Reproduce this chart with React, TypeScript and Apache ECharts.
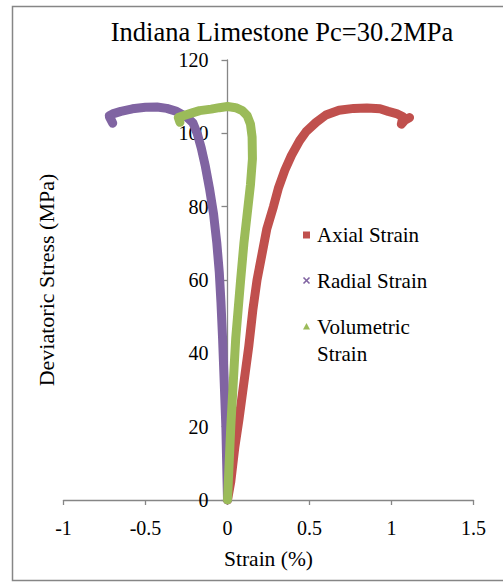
import React, { useEffect, useRef } from "react";
import * as echarts from "echarts";

const FONT = "Liberation Serif";

const titleText = "Indiana Limestone Pc=30.2MPa";
const xTicks = { min: -1, max: 1.5, interval: 0.5 };
const yTicks = { min: 0, max: 120, interval: 20 };

const axialStrain = [0, 0.02, 0.045, 0.07, 0.1, 0.13, 0.155, 0.18, 0.21, 0.24, 0.28, 0.31, 0.35, 0.39, 0.44, 0.48, 0.54, 0.6, 0.68, 0.77, 0.85, 0.93, 0.98, 1.03, 1.07, 1.06, 1.08, 1.11];
const axialStress = [0, 5, 14.5, 22, 32, 42, 52, 60, 67, 74, 80, 85, 90, 94, 98, 100.5, 103, 105, 106.3, 106.8, 106.9, 106.7, 106, 105.4, 104.5, 102.5, 103.5, 104.3];

const radialStrain = [0, -0.005, -0.01, -0.02, -0.03, -0.04, -0.05, -0.065, -0.085, -0.11, -0.135, -0.16, -0.185, -0.21, -0.25, -0.31, -0.37, -0.43, -0.5, -0.58, -0.65, -0.7, -0.72, -0.7, -0.72];
const radialStress = [0, 10, 20, 32, 44, 54, 62, 70, 78, 85, 91, 96, 100, 102.8, 104.5, 106, 106.8, 107.2, 107.1, 106.7, 106, 105.3, 104.8, 102.8, 104.5];

const volStrain = [0, 0.01, 0.02, 0.035, 0.05, 0.065, 0.08, 0.1, 0.12, 0.14, 0.152, 0.15, 0.14, 0.12, 0.09, 0.05, 0, -0.05, -0.1, -0.17, -0.22, -0.27, -0.3, -0.29];
const volStress = [0, 10, 20, 32, 44, 52, 60, 70, 78, 86, 93, 99, 102.5, 104.8, 106.2, 107, 107.3, 107, 106.6, 106.2, 105.5, 104.8, 104.3, 103];

const seriesNames = ["Axial Strain", "Radial Strain", "Volumetric Strain"];
const legendLines = [["Axial Strain"], ["Radial Strain"], ["Volumetric", "Strain"]];
const seriesColors = ["#C0504D", "#8064A2", "#9BBB59"];

const zip = (xs: number[], ys: number[]) => xs.map((x, i) => [x, ys[i]]);

export default function App() {
  const ref = useRef<HTMLDivElement>(null);
  useEffect(() => {
    if (!ref.current) return;
    const chart = echarts.init(ref.current, null, { renderer: "svg" });
    const axisColor = "#868686";
    const lineSeries = (name: string, color: string, data: number[][]) => ({
      name,
      type: "line",
      data,
      showSymbol: false,
      symbol: "none",
      smooth: false,
      color,
      lineStyle: { width: 9, color, cap: "round", join: "round" },
      itemStyle: { color },
    });

    // legend drawn as graphic (icon aligned with first text line)
    const legX = 306.5;
    const legTextX = 317;
    const legY = [235, 280.5, 326.5];
    const lineH = 27;
    const legendGraphics: any[] = [];
    legendGraphics.push({
      type: "rect",
      shape: { x: legX - 3.5, y: legY[0] - 3.5, width: 7, height: 7 },
      style: { fill: seriesColors[0] },
    });
    legendGraphics.push({
      type: "line",
      shape: { x1: legX - 3, y1: legY[1] - 3, x2: legX + 3, y2: legY[1] + 3 },
      style: { stroke: seriesColors[1], lineWidth: 1.6 },
    });
    legendGraphics.push({
      type: "line",
      shape: { x1: legX - 3, y1: legY[1] + 3, x2: legX + 3, y2: legY[1] - 3 },
      style: { stroke: seriesColors[1], lineWidth: 1.6 },
    });
    legendGraphics.push({
      type: "polygon",
      shape: { points: [[legX - 3.5, legY[2] + 3], [legX + 3.5, legY[2] + 3], [legX, legY[2] - 3.5]] },
      style: { fill: seriesColors[2] },
    });
    legendLines.forEach((lines, i) => {
      lines.forEach((t, j) => {
        legendGraphics.push({
          type: "text",
          x: legTextX,
          y: legY[i] + j * lineH,
          style: { text: t, fontFamily: FONT, fontSize: 21, fill: "#000", align: "left", verticalAlign: "middle" },
        });
      });
    });

    chart.setOption({
      animation: false,
      backgroundColor: "#ffffff",
      textStyle: { fontFamily: FONT },
      title: {
        text: titleText,
        left: 282,
        top: 18,
        textAlign: "center",
        padding: 0,
        textStyle: { fontFamily: FONT, fontSize: 26.5, fontWeight: "normal", color: "#000", lineHeight: 28 },
      },
      graphic: [
        {
          type: "rect",
          shape: { x: 12.5, y: 6.5, width: 500, height: 574 },
          style: { fill: "none", stroke: axisColor, lineWidth: 1.5 },
          silent: true,
          z: -1,
        },
        ...legendGraphics,
      ],
      grid: { left: 63.5, right: 29.5, top: 60, bottom: 82, containLabel: false, outerBoundsMode: "none" },
      xAxis: {
        type: "value",
        min: xTicks.min,
        max: xTicks.max,
        interval: xTicks.interval,
        name: "Strain (%)",
        nameLocation: "middle",
        nameGap: 48,
        nameTextStyle: { fontFamily: FONT, fontSize: 21.5, color: "#000" },
        axisLine: { show: true, onZero: false, lineStyle: { color: axisColor, width: 1.3 } },
        axisTick: { show: true, inside: false, length: 5, lineStyle: { color: axisColor, width: 1.3 } },
        axisLabel: { fontFamily: FONT, fontSize: 20, color: "#000", margin: 18 },
        splitLine: { show: false },
      },
      yAxis: {
        type: "value",
        position: "left",
        offset: -164,
        min: yTicks.min,
        max: yTicks.max,
        interval: yTicks.interval,
        name: "Deviatoric Stress (MPa)",
        nameLocation: "middle",
        nameGap: 170,
        nameTextStyle: { fontFamily: FONT, fontSize: 22, color: "#000" },
        axisLine: { show: true, onZero: false, lineStyle: { color: axisColor, width: 1.3 } },
        axisTick: { show: true, inside: false, length: 6, lineStyle: { color: axisColor, width: 1.3 } },
        axisLabel: { fontFamily: FONT, fontSize: 20, color: "#000", margin: 19 },
        splitLine: { show: false },
      },
      series: [
        lineSeries(seriesNames[0], seriesColors[0], zip(axialStrain, axialStress)),
        lineSeries(seriesNames[1], seriesColors[1], zip(radialStrain, radialStress)),
        lineSeries(seriesNames[2], seriesColors[2], zip(volStrain, volStress)),
      ],
    });
    return () => chart.dispose();
  }, []);
  return <div ref={ref} style={{ position: "fixed", left: 0, top: 0, width: 503, height: 582 }} />;
}
